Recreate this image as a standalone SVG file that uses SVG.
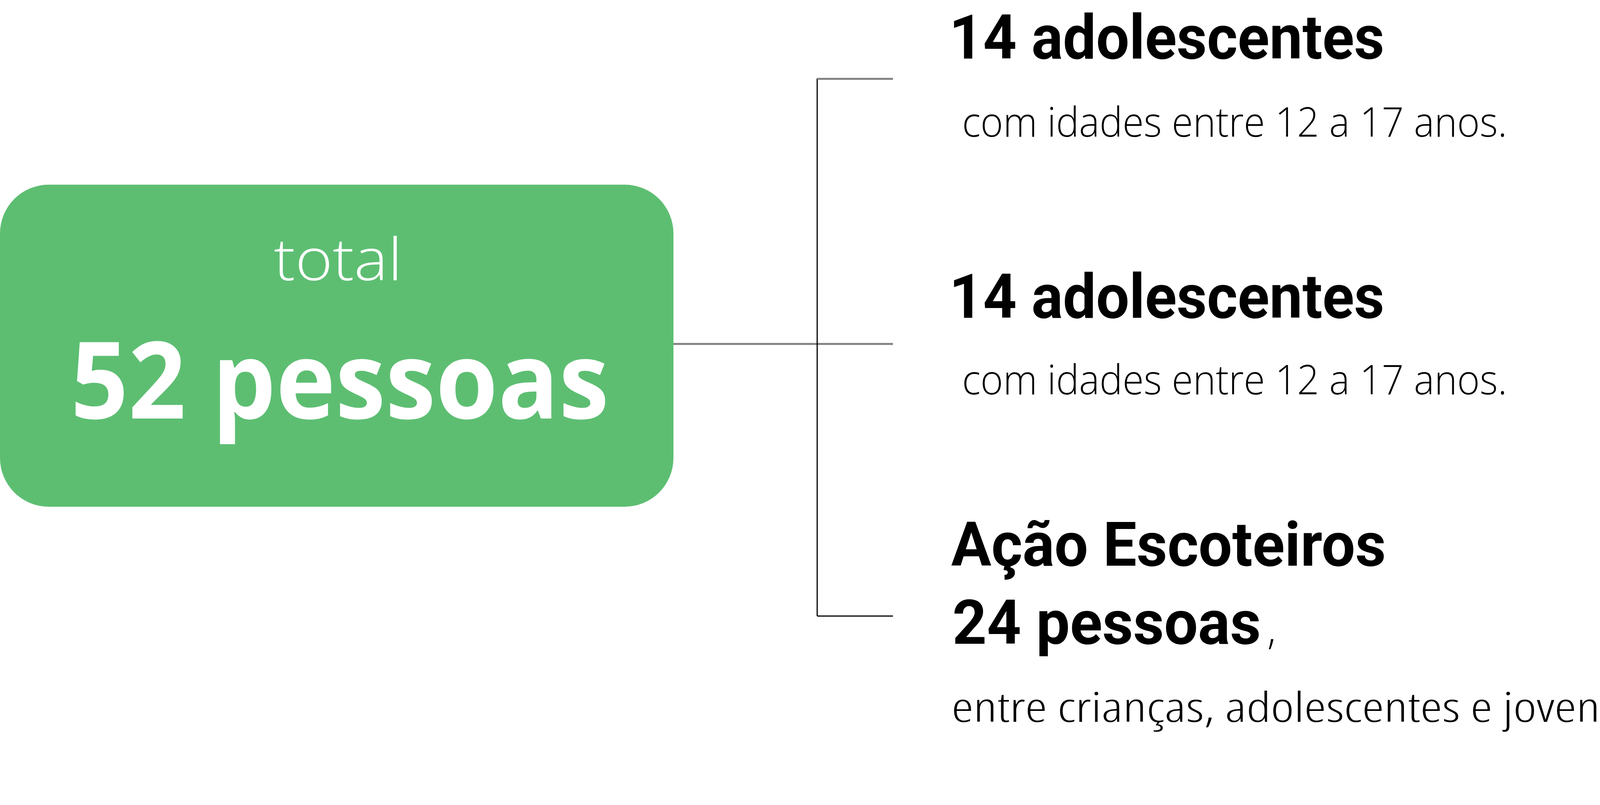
<svg xmlns="http://www.w3.org/2000/svg" width="4178" height="2062" viewBox="0 0 4178 2062">
<style>
.bg{fill:#ffffff}
.box{fill:#5dbe72}
.head{font-family:Roboto,"Liberation Sans",sans-serif;font-weight:700;font-size:158px;fill:#000000}
.sub{font-family:"Open Sans","Liberation Sans",sans-serif;font-weight:300;font-size:106px;fill:#000000}
.cond{font-stretch:75%}
.tot{font-family:"Open Sans","Liberation Sans",sans-serif;font-weight:300;font-size:150px;fill:#ffffff}
.big{font-family:"Open Sans","Liberation Sans",sans-serif;font-weight:700;font-size:274px;fill:#ffffff}
.gray{stroke:#808080;stroke-width:5;fill:none}
.black{stroke:#000000;stroke-width:3;fill:none}
</style>
<rect class="bg" x="0" y="0" width="4178" height="2062"/>
<g id="connectors">
<line class="gray" x1="1724" y1="881" x2="2286" y2="881"/>
<line class="black" x1="2092" y1="201" x2="2092" y2="1578"/>
<line class="gray" x1="2092" y1="202" x2="2286" y2="202"/>
<line class="black" x1="2092" y1="1578" x2="2286" y2="1578"/>
</g>
<g id="node-total">
<rect class="box" x="0" y="473" width="1724" height="825" rx="125" ry="125"/>
<text class="tot" x="701" y="718" textLength="329" lengthAdjust="spacingAndGlyphs">total</text>
<text class="big" x="181" y="1072" textLength="1378" lengthAdjust="spacingAndGlyphs">52 pessoas</text>
</g>
<g id="node-adolescentes-1">
<text class="head" x="2430" y="150" textLength="1114" lengthAdjust="spacingAndGlyphs">14 adolescentes</text>
<text class="sub" x="2463" y="350" textLength="1395" lengthAdjust="spacingAndGlyphs">com idades entre 12 a 17 anos.</text>
</g>
<g id="node-adolescentes-2">
<text class="head" x="2430" y="814" textLength="1114" lengthAdjust="spacingAndGlyphs">14 adolescentes</text>
<text class="sub" x="2463" y="1010" textLength="1395" lengthAdjust="spacingAndGlyphs">com idades entre 12 a 17 anos.</text>
</g>
<g id="node-escoteiros">
<text class="head" x="2435" y="1449" textLength="1113" lengthAdjust="spacingAndGlyphs">Ação Escoteiros</text>
<text class="head" x="2438" y="1649" textLength="790" lengthAdjust="spacingAndGlyphs">24 pessoas</text>
<text class="sub" x="3244" y="1649">,</text>
<text class="sub cond" x="2436" y="1849" textLength="1706" lengthAdjust="spacingAndGlyphs">entre crianças, adolescentes e jovens</text>
</g>
</svg>
